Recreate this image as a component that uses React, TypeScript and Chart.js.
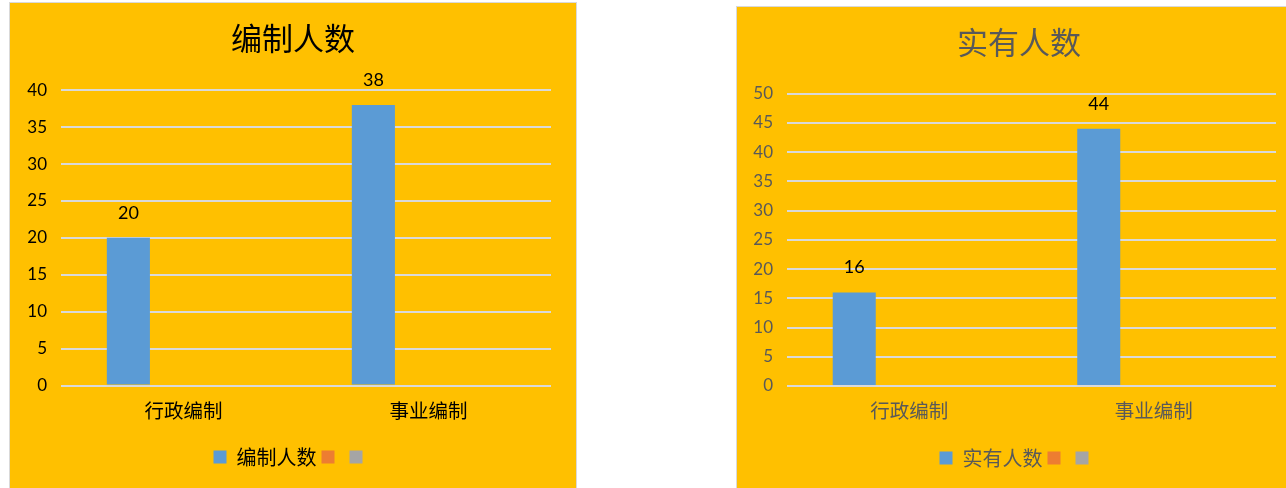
import React, { useEffect, useRef } from "react";
import { Chart, registerables } from "chart.js";

Chart.register(...registerables);

// ---- data ----
const categories = ["行政编制", "事业编制"];
const quotaSeriesName = "编制人数";
const quotaValues = [20, 38];
const actualSeriesName = "实有人数";
const actualValues = [16, 44];
const emptySeries = [null, null];
const quotaAxisMax = 40;
const actualAxisMax = 50;
const axisStep = 5;

// ---- styles ----
const BLUE = "#5B9BD5";
const ORANGE = "#ED7D31";
const GREY = "#A5A5A5";
const PANEL_BG = "#FFC000";
const GRID = "#D9D9D9";
const LATIN = "Lato, 'Noto Sans CJK SC', sans-serif";
const CJK = "'Noto Sans CJK SC', 'Noto Sans', sans-serif";

const valueLabels = {
  id: "valueLabels",
  afterDatasetsDraw(chart: any) {
    const ctx = chart.ctx;
    const meta = chart.getDatasetMeta(0);
    const data = chart.data.datasets[0].data;
    ctx.save();
    ctx.font = `18px ${LATIN}`;
    ctx.fillStyle = "#000000";
    ctx.textAlign = "center";
    ctx.textBaseline = "middle";
    meta.data.forEach((bar: any, i: number) => {
      ctx.fillText(String(data[i]), bar.x, bar.y - 25);
    });
    ctx.restore();
  },
};

type PanelProps = {
  title: string;
  seriesName: string;
  values: number[];
  yMax: number;
  titleColor: string;
  textColor: string;
  left: number;
  top: number;
  width: number;
  height: number;
  plotLeft: number;
  plotRightGap: number;
  xAxisHeight: number;
  titlePadTop: number;
  titlePadBottom: number;
  padBottom: number;
};

function ChartPanel(p: PanelProps) {
  const ref = useRef<HTMLCanvasElement | null>(null);
  useEffect(() => {
    if (!ref.current) return;
    const chart = new Chart(ref.current, {
      type: "bar",
      data: {
        labels: categories,
        datasets: [
          { label: p.seriesName, data: p.values, backgroundColor: BLUE, borderWidth: 0 },
          { label: "", data: emptySeries as any, backgroundColor: ORANGE, borderWidth: 0 },
          { label: "", data: emptySeries as any, backgroundColor: GREY, borderWidth: 0 },
        ],
      },
      options: {
        responsive: false,
        animation: false,
        devicePixelRatio: 1,
        datasets: {
          bar: { categoryPercentage: 0.675, barPercentage: 0.782 },
        },
        layout: { padding: { left: 0, top: 0, right: 0, bottom: p.padBottom } },
        plugins: {
          tooltip: { enabled: false },
          title: {
            display: true,
            text: p.title,
            color: p.titleColor,
            font: { family: CJK, size: 31, weight: "normal" as any, lineHeight: 1.2 },
            padding: { top: p.titlePadTop, bottom: p.titlePadBottom },
          },
          legend: {
            display: true,
            position: "bottom",
            labels: {
              color: p.textColor,
              boxWidth: 13,
              boxHeight: 13,
              padding: 5,
              font: { family: CJK, size: 20 },
            },
          },
        },
        scales: {
          x: {
            grid: { display: false, drawTicks: false },
            border: { display: false },
            ticks: { color: p.textColor, padding: 13, font: { family: CJK, size: 19.5 } },
            afterFit: (s: any) => {
              s.height = p.xAxisHeight;
            },
          },
          y: {
            min: 0,
            max: p.yMax,
            grid: { color: GRID, lineWidth: 2, drawTicks: false },
            border: { display: false },
            ticks: { stepSize: axisStep, color: p.textColor, padding: 14, font: { family: LATIN, size: 17 } },
            afterFit: (s: any) => {
              s.width = p.plotLeft;
            },
          },
          spacer: {
            type: "linear",
            position: "right",
            display: true,
            grid: { display: false, drawTicks: false },
            border: { display: false },
            ticks: { display: false },
            afterFit: (s: any) => {
              s.width = p.plotRightGap;
            },
          },
        },
      },
      plugins: [valueLabels],
    });
    return () => chart.destroy();
  }, []);
  return (
    <div
      style={{
        position: "absolute",
        left: p.left - 1,
        top: p.top - 1,
        border: "1px solid #D9D9D9",
        background: PANEL_BG,
        width: p.width,
        height: p.height,
      }}
    >
      <canvas ref={ref} width={p.width} height={p.height} style={{ display: "block", width: p.width, height: p.height }} />
    </div>
  );
}

export default function App() {
  return (
    <div
      style={{
        position: "absolute",
        left: 0,
        top: 0,
        width: 1286,
        height: 488,
        overflow: "hidden",
        background: "#FFFFFF",
      }}
    >
      <ChartPanel
        title={quotaSeriesName}
        seriesName={quotaSeriesName}
        values={quotaValues}
        yMax={quotaAxisMax}
        titleColor="#000000"
        textColor="#000000"
        left={10}
        top={3}
        width={566}
        height={490}
        plotLeft={51}
        plotRightGap={25}
        xAxisHeight={56.5}
        titlePadTop={17}
        titlePadBottom={33}
        padBottom={16}
      />
      <ChartPanel
        title={actualSeriesName}
        seriesName={actualSeriesName}
        values={actualValues}
        yMax={actualAxisMax}
        titleColor="#595959"
        textColor="#595959"
        left={737}
        top={7}
        width={564}
        height={490}
        plotLeft={50}
        plotRightGap={25}
        xAxisHeight={57}
        titlePadTop={17}
        titlePadBottom={32.5}
        padBottom={19}
      />
    </div>
  );
}
